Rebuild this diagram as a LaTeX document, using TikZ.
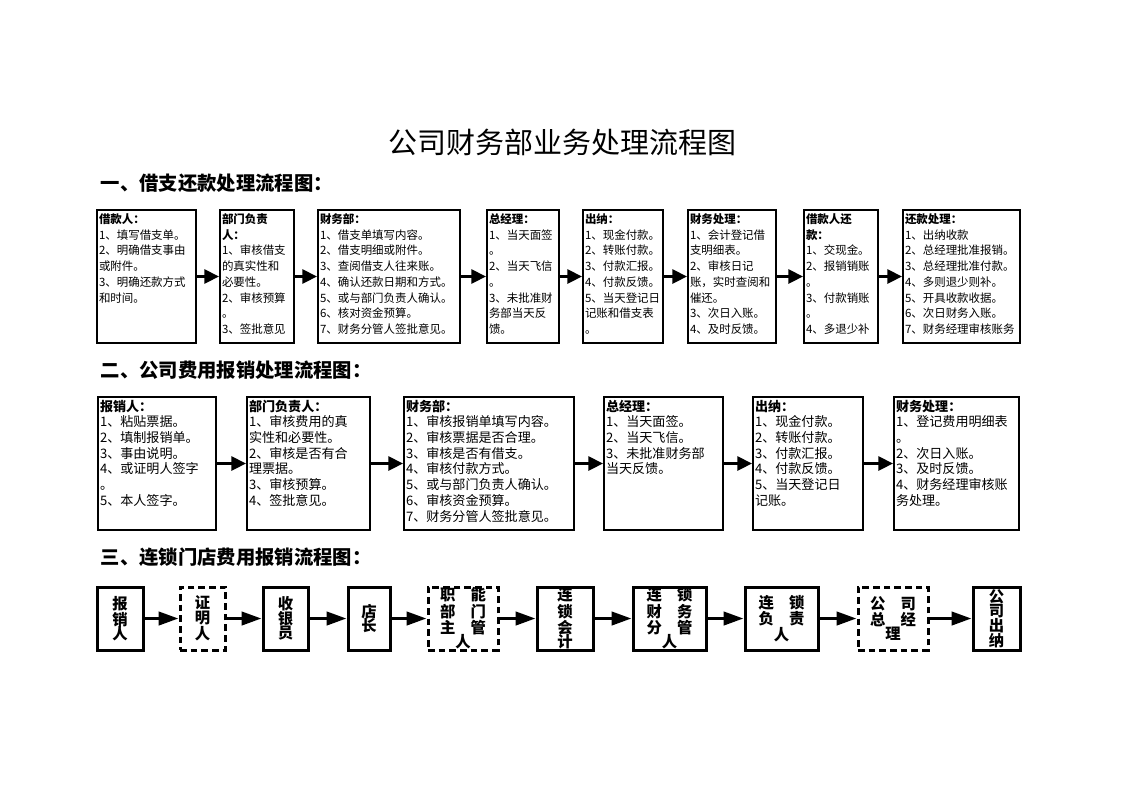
\documentclass[tikz,border=0pt]{standalone}
\usepackage{fontspec}
\setmainfont{Noto Sans CJK SC}
\usepackage{tikz}
\usetikzlibrary{arrows.meta}
\tikzset{
  flowbox/.style={draw, line width=1.5pt, anchor=north west, align=left, inner sep=1.5pt, text height=8.5pt, text depth=88.25pt, font=\fontsize{8.6}{11.8}\selectfont},
  claimbox/.style={flowbox, text height=9pt, text depth=87.75pt, font=\fontsize{9.8}{11.8}\selectfont},
  chainbox/.style={draw, line width=2.25pt, align=center, inner sep=0pt, minimum height=47.25pt, font=\fontsize{11.5}{11}\bfseries\selectfont},
  chaindash/.style={chainbox, dash pattern=on 5pt off 3pt},
  flowarrow/.style={line width=2.25pt, -{Triangle[length=11pt, width=10.5pt]}},
  chainarrow/.style={line width=2.5pt, -{Triangle[length=15pt, width=10pt]}},
  heading/.style={anchor=west, font=\fontsize{14.5}{16}\bfseries\selectfont}
}

\begin{document}
\begin{tikzpicture}[x=0.75pt, y=-0.75pt]
    \useasboundingbox (0,0) rectangle (1123,794);

    \node (title) at (562,142) {\fontsize{21.75}{24}\selectfont 公司财务部业务处理流程图};
    \node[heading] (head1) at (96,183) {一、借支还款处理流程图：};
    \node[heading] (head2) at (96,370) {二、公司费用报销处理流程图：};
    \node[heading] (head3) at (96,557) {三、连锁门店费用报销流程图：};

    \node[flowbox, text width=71.25pt] (r1borrow) at (96,209) {\textbf{借款人：}\\1、填写借支单。\\2、明确借支事由\\或附件。\\3、明确还款方式\\和时间。};
    \node[flowbox, text width=52.5pt] (r1dept) at (219,209) {\textbf{部门负责}\\\textbf{人：}\\1、审核借支\\的真实性和\\必要性。\\2、审核预算\\。\\3、签批意见};
    \node[flowbox, text width=103.5pt] (r1fin) at (317,209) {\textbf{财务部：}\\1、借支单填写内容。\\2、借支明细或附件。\\3、查阅借支人往来账。\\4、确认还款日期和方式。\\5、或与部门负责人确认。\\6、核对资金预算。\\7、财务分管人签批意见。};
    \node[flowbox, text width=51pt] (r1gm) at (486,209) {\textbf{总经理：}\\1、当天面签\\。\\2、当天飞信\\。\\3、未批准财\\务部当天反\\馈。};
    \node[flowbox, text width=57pt] (r1cash) at (582,209) {\textbf{出纳：}\\1、现金付款。\\2、转账付款。\\3、付款汇报。\\4、付款反馈。\\5、当天登记日\\记账和借支表\\。};
    \node[flowbox, text width=63pt] (r1acct) at (687,209) {\textbf{财务处理：}\\1、会计登记借\\支明细表。\\2、审核日记\\账，实时查阅和\\催还。\\3、次日入账。\\4、及时反馈。};
    \node[flowbox, text width=52.5pt] (r1repay) at (803,209) {\textbf{借款人还}\\\textbf{款：}\\1、交现金。\\2、报销销账\\。\\3、付款销账\\。\\4、多退少补};
    \node[flowbox, text width=84.75pt] (r1settle) at (902,209) {\textbf{还款处理：}\\1、出纳收款\\2、总经理批准报销。\\3、总经理批准付款。\\4、多则退少则补。\\5、开具收款收据。\\6、次日财务入账。\\7、财务经理审核账务};

    \draw[flowarrow] (r1borrow) -- (r1dept);
    \draw[flowarrow] (r1dept) -- (r1fin);
    \draw[flowarrow] (r1fin) -- (r1gm);
    \draw[flowarrow] (r1gm) -- (r1cash);
    \draw[flowarrow] (r1cash) -- (r1acct);
    \draw[flowarrow] (r1acct) -- (r1repay);
    \draw[flowarrow] (r1repay) -- (r1settle);

    \node[claimbox, text width=85.5pt] (r2claim) at (97,396) {\textbf{报销人：}\\1、粘贴票据。\\2、填制报销单。\\3、事由说明。\\4、或证明人签字\\。\\5、本人签字。};
    \node[claimbox, text width=89.25pt] (r2dept) at (246,396) {\textbf{部门负责人：}\\1、审核费用的真\\实性和必要性。\\2、审核是否有合\\理票据。\\3、审核预算。\\4、签批意见。};
    \node[claimbox, text width=124.5pt] (r2fin) at (403,396) {\textbf{财务部：}\\1、审核报销单填写内容。\\2、审核票据是否合理。\\3、审核是否有借支。\\4、审核付款方式。\\5、或与部门负责人确认。\\6、审核资金预算。\\7、财务分管人签批意见。};
    \node[claimbox, text width=86.25pt] (r2gm) at (603,396) {\textbf{总经理：}\\1、当天面签。\\2、当天飞信。\\3、未批准财务部\\当天反馈。};
    \node[claimbox, text width=79.5pt] (r2cash) at (752,396) {\textbf{出纳：}\\1、现金付款。\\2、转账付款。\\3、付款汇报。\\4、付款反馈。\\5、当天登记日\\记账。};
    \node[claimbox, text width=90.75pt] (r2acct) at (893,396) {\textbf{财务处理：}\\1、登记费用明细表\\。\\2、次日入账。\\3、及时反馈。\\4、财务经理审核账\\务处理。};

    \draw[flowarrow] (r2claim) -- (r2dept);
    \draw[flowarrow] (r2dept) -- (r2fin);
    \draw[flowarrow] (r2fin) -- (r2gm);
    \draw[flowarrow] (r2gm) -- (r2cash);
    \draw[flowarrow] (r2cash) -- (r2acct);

    \node[chainbox, minimum width=34.5pt] (r3claim) at (120,618.5) {报\\销\\人};
    \node[chaindash, minimum width=33.75pt] (r3witness) at (202.5,618.5) {证\\明\\人};
    \node[chainbox, minimum width=33.75pt] (r3cashier) at (285.5,618.5) {收\\银\\员};
    \node[chainbox, minimum width=31.5pt] (r3store) at (369,618.5) {店\\长};
    \node[chaindash, minimum width=52.5pt] (r3func) at (463,618.5) {职\quad 能\\部\quad 门\\主\quad 管\\人};
    \node[chainbox, minimum width=42pt] (r3chainacct) at (565,618.5) {连\\锁\\会\\计};
    \node[chainbox, minimum width=54.75pt] (r3chainfin) at (669.5,618.5) {连\quad 锁\\财\quad 务\\分\quad 管\\人};
    \node[chainbox, minimum width=54.75pt] (r3chainhead) at (781.5,618.5) {连\quad 锁\\负\quad 责\\人};
    \node[chaindash, minimum width=52.5pt] (r3ceo) at (893,618.5) {公\quad 司\\总\quad 经\\理};
    \node[chainbox, minimum width=35.25pt] (r3payout) at (996.5,618.5) {公\\司\\出\\纳};

    \draw[chainarrow] (r3claim) -- (r3witness);
    \draw[chainarrow] (r3witness) -- (r3cashier);
    \draw[chainarrow] (r3cashier) -- (r3store);
    \draw[chainarrow] (r3store) -- (r3func);
    \draw[chainarrow] (r3func) -- (r3chainacct);
    \draw[chainarrow] (r3chainacct) -- (r3chainfin);
    \draw[chainarrow] (r3chainfin) -- (r3chainhead);
    \draw[chainarrow] (r3chainhead) -- (r3ceo);
    \draw[chainarrow] (r3ceo) -- (r3payout);
\end{tikzpicture}
\end{document}
